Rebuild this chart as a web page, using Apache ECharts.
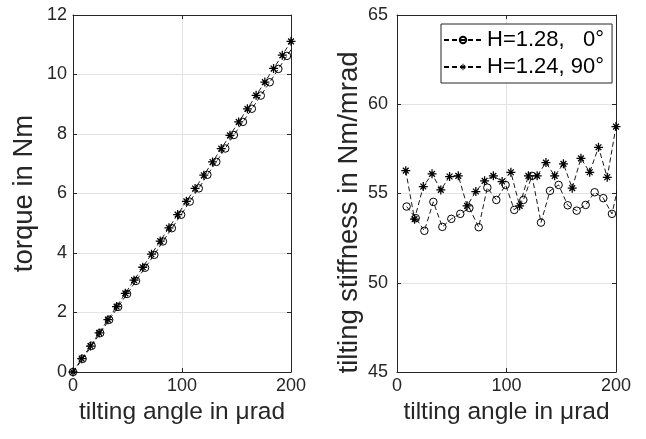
<!DOCTYPE html>
<html>
<head>
<meta charset="utf-8">
<script src="https://cdn.jsdelivr.net/npm/echarts/dist/echarts.min.js"></script>
<style>
html,body{margin:0;padding:0;background:#fff;}
#chart{width:646px;height:439px;}
</style>
</head>
<body>
<div id="chart"></div>
<script>
// H=1.28, 0 deg (circles)
var circle_angle = [8.8,17.1,25.0,33.2,41.4,49.6,57.8,66.1,74.6,82.5,90.7,99.2,107.1,115.4,123.3,131.5,139.7,147.6,155.9,164.1,172.3,180.5,188.4,196.3,204.5];
var circle_stiffness = [54.27,53.62,52.91,54.53,53.13,53.58,53.86,54.19,53.11,55.33,54.64,55.48,54.08,54.64,55.99,53.37,55.15,55.48,54.34,54.04,54.36,55.07,54.74,53.86,56.1];
var circle_torque_angle = [0].concat(circle_angle);
var circle_torque = [0,0.442,0.879,1.310,1.755,2.188,2.624,3.063,3.505,3.938,4.389,4.834,5.286,5.727,6.172,6.629,7.064,7.513,7.965,8.408,8.849,9.292,9.740,10.187,10.626,11.083];

// H=1.24, 90 deg (stars)
var star_angle = [8,16,24,32,40,48,56,64,72,80,88,96,104,112,120,128,136,144,152,160,168,176,184,192,200];
var star_stiffness = [56.28,53.56,55.39,56.10,55.20,55.95,55.99,54.31,55.11,55.71,55.99,55.67,56.19,54.31,55.99,55.99,56.73,55.99,56.66,55.30,56.97,56.19,57.59,55.91,58.75];
var star_torque_angle = [0].concat(star_angle);
var star_torque = [0,0.447,0.873,1.313,1.759,2.199,2.643,3.088,3.521,3.959,4.401,4.847,5.290,5.736,6.169,6.614,7.059,7.510,7.955,8.406,8.846,9.299,9.745,10.203,10.648,11.115];

var x_label = 'tilting angle in μrad';
var legend_names = ['H=1.28,   0°', 'H=1.24, 90°'];

var ink = '#262626';
var star_path = 'path://M8.6 0H11.4V20H8.6Z M0 8.6H20V11.4H0Z M2.6 4.6L4.6 2.6L17.4 15.4L15.4 17.4Z M15.4 2.6L17.4 4.6L4.6 17.4L2.6 15.4Z';

function pairs(xs, ys){
	var out = [];
	for (var i = 0; i < xs.length; i++) out.push([xs[i], ys[i]]);
	return out;
}

function main_x(grid, name){
	return {
		gridIndex: grid, type: 'value', position: 'bottom', min: 0, max: 200, interval: 100,
		name: name, nameLocation: 'middle', nameGap: 25,
		nameTextStyle: {fontSize: 24.5, color: ink, fontFamily: 'Liberation Sans'},
		axisLine: {show: true, onZero: false, lineStyle: {color: ink, width: 1}},
		axisTick: {show: true, inside: true, length: 4, lineStyle: {color: ink}},
		axisLabel: {fontSize: 18, color: ink, margin: 5, fontFamily: 'Liberation Sans'},
		splitLine: {show: true, lineStyle: {color: '#e3e3e3', width: 1}}
	};
}
function top_x(grid){
	return {
		gridIndex: grid, type: 'value', position: 'top', min: 0, max: 200, interval: 100,
		axisLine: {show: true, onZero: false, lineStyle: {color: ink, width: 1}},
		axisTick: {show: true, inside: true, length: 4, lineStyle: {color: ink}},
		axisLabel: {show: false}, splitLine: {show: false}
	};
}
function main_y(grid, min, max, step, name, gap, margin, pad){
	return {
		gridIndex: grid, type: 'value', position: 'left', min: min, max: max, interval: step,
		name: name, nameLocation: 'middle', nameGap: gap,
		nameTextStyle: {fontSize: 27.5, color: ink, fontFamily: 'Liberation Sans', padding: pad},
		axisLine: {show: true, onZero: false, lineStyle: {color: ink, width: 1}},
		axisTick: {show: true, inside: true, length: 4, lineStyle: {color: ink}},
		axisLabel: {fontSize: 18, color: ink, margin: margin, fontFamily: 'Liberation Sans'},
		splitLine: {show: true, lineStyle: {color: '#e3e3e3', width: 1}}
	};
}
function right_y(grid, min, max, step){
	return {
		gridIndex: grid, type: 'value', position: 'right', min: min, max: max, interval: step,
		axisLine: {show: true, onZero: false, lineStyle: {color: ink, width: 1}},
		axisTick: {show: true, inside: true, length: 4, lineStyle: {color: ink}},
		axisLabel: {show: false}, splitLine: {show: false}
	};
}
function circle_series(name, xi, yi, data){
	return {
		name: name, type: 'line', xAxisIndex: xi, yAxisIndex: yi, data: data,
		symbol: 'circle', symbolSize: 7.5, showAllSymbol: true, clip: true,
		itemStyle: {color: 'rgba(0,0,0,0)', borderColor: '#000', borderWidth: 1},
		lineStyle: {color: '#000', width: 0.9, type: [5, 3]}
	};
}
function star_series(name, xi, yi, data){
	return {
		name: name, type: 'line', xAxisIndex: xi, yAxisIndex: yi, data: data,
		symbol: star_path, symbolSize: 9, showAllSymbol: true, clip: true,
		itemStyle: {color: '#000'},
		lineStyle: {color: '#000', width: 0.9, type: [5, 3]}
	};
}

var chart = echarts.init(document.getElementById('chart'));
var option = {
	animation: false,
	backgroundColor: '#fff',
	grid: [
		{left: 73, top: 15, width: 218, height: 357},
		{left: 397, top: 15, width: 219, height: 357}
	],
	xAxis: [main_x(0, x_label), top_x(0), main_x(1, x_label), top_x(1)],
	yAxis: [
		main_y(0, 0, 12, 2, 'torque in Nm', 35, 6, 0),
		right_y(0, 0, 12, 2),
		main_y(1, 45, 65, 5, 'tilting stiffness in Nm/mrad', 34, 9, [0, 38, 0, 0]),
		right_y(1, 45, 65, 5)
	],
	legend: {
		left: 441, top: 24, orient: 'vertical',
		data: legend_names,
		itemWidth: 38, itemHeight: 8, itemGap: 5,
		padding: [5, 8, 5, 2],
		backgroundColor: '#fff', borderColor: ink, borderWidth: 1,
		textStyle: {fontSize: 22, color: '#000', fontFamily: 'Liberation Sans'}
	},
	series: [
		circle_series(legend_names[0], 0, 0, pairs(circle_torque_angle, circle_torque)),
		star_series(legend_names[1], 0, 0, pairs(star_torque_angle, star_torque)),
		circle_series(legend_names[0], 2, 2, pairs(circle_angle, circle_stiffness)),
		star_series(legend_names[1], 2, 2, pairs(star_angle, star_stiffness))
	]
};
chart.setOption(option);
</script>
</body>
</html>
